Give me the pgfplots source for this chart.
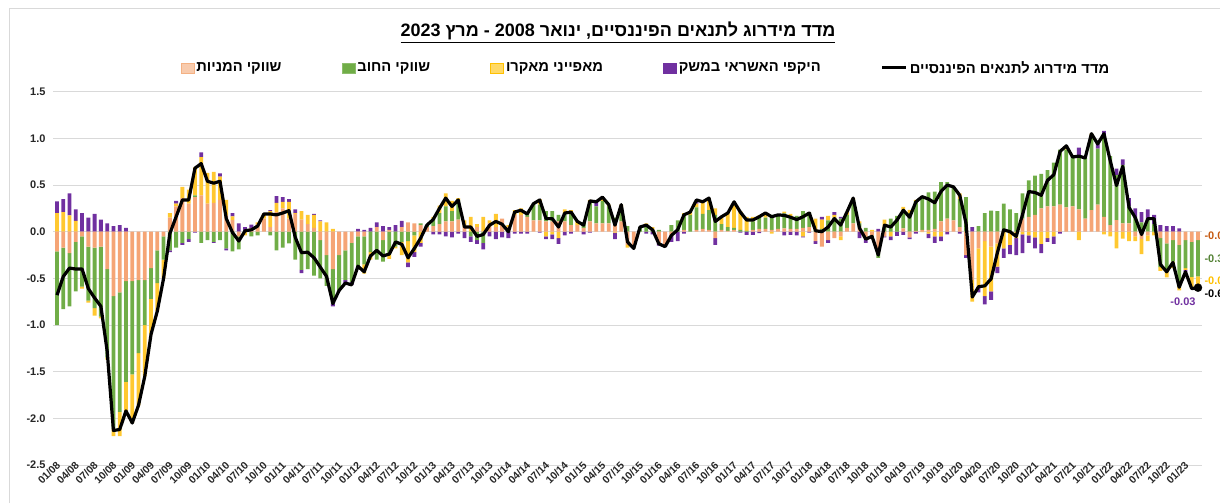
\documentclass[border=0pt]{standalone}
\usepackage{pgfplots}
\pgfplotsset{compat=1.18}
\usepackage{pgfplotstable}
\usepackage{fontspec}
\setmainfont{Liberation Sans}
\newfontfamily\hebfont[Script=Hebrew]{Liberation Sans}
\TeXXeTstate=1
\newcommand\heb[1]{{\hebfont\beginR #1\endR}}

\definecolor{eqc}{HTML}{F5A576}
\definecolor{eqlight}{HTML}{F8CBAD}
\definecolor{eqdark}{HTML}{F4B183}
\definecolor{debtc}{HTML}{70AD47}
\definecolor{macc}{HTML}{FFC830}
\definecolor{maclight}{HTML}{FFD966}
\definecolor{macdark}{HTML}{FFC000}
\definecolor{crdc}{HTML}{7030A0}
\definecolor{gridc}{HTML}{D9D9D9}
\definecolor{eqlab}{HTML}{C55A11}
\definecolor{debtlab}{HTML}{548235}

% monthly components, 01/2008 (i=0) to 03/2023 (i=182)
% eq = equity markets, debt = debt markets, mac = macro, crd = credit volume, idx = index
\pgfplotstableread{
i eq debt mac crd idx
0 -0.21 -0.79 0.20 0.125 -0.68
1 -0.17 -0.66 0.21 0.14 -0.48
2 -0.23 -0.57 0.175 0.235 -0.39
3 -0.11 -0.53 0.115 0.125 -0.40
4 -0.05 -0.54 -0.02 0.20 -0.40
5 -0.16 -0.58 -0.02 0.15 -0.61
6 -0.17 -0.65 -0.08 0.19 -0.71
7 -0.16 -0.75 -0.02 0.13 -0.80
8 -0.40 -0.95 -0.02 0.09 -1.28
9 -0.69 -1.42 -0.08 0.06 -2.13
10 -0.65 -1.28 -0.26 0.07 -2.12
11 -0.53 -1.08 -0.34 0.04 -1.92
12 -0.53 -1.00 -0.52 0.00 -2.05
13 -0.52 -0.78 -0.56 0.00 -1.86
14 -0.52 -0.48 -0.55 0.00 -1.55
15 -0.39 -0.33 -0.38 0.00 -1.10
16 -0.20 -0.35 -0.30 0.00 -0.85
17 -0.05 -0.25 -0.20 0.00 -0.50
18 0.15 -0.20 0.05 -0.02 -0.02
19 0.27 -0.17 0.03 0.03 0.16
20 0.36 -0.12 0.12 -0.02 0.34
21 0.30 -0.08 0.15 -0.03 0.34
22 0.37 0.02 0.30 -0.01 0.68
23 0.39 -0.12 0.41 0.05 0.73
24 0.30 -0.09 0.33 0.00 0.54
25 0.31 -0.11 0.33 -0.01 0.52
26 0.34 -0.09 0.25 0.035 0.54
27 0.18 -0.18 0.16 -0.02 0.14
28 0.125 -0.21 0.04 0.035 -0.01
29 -0.05 -0.14 0.00 0.09 -0.10
30 0.00 0.00 -0.04 0.05 0.01
31 0.04 -0.05 0.00 0.035 0.02
32 0.08 -0.04 0.02 0.00 0.06
33 0.14 0.00 0.05 0.00 0.19
34 0.05 -0.04 0.17 0.01 0.19
35 0.21 -0.20 0.10 0.07 0.18
36 0.25 -0.17 0.07 0.05 0.20
37 0.14 -0.125 0.18 0.03 0.225
38 0.19 -0.30 0.01 0.04 -0.06
39 0.13 -0.41 0.09 -0.035 -0.225
40 0.08 -0.40 0.10 0.00 -0.22
41 0.04 -0.47 0.14 0.01 -0.28
42 -0.09 -0.41 0.11 0.01 -0.38
43 -0.25 -0.33 0.10 0.00 -0.48
44 -0.40 -0.37 0.03 -0.03 -0.77
45 -0.25 -0.38 0.00 0.00 -0.63
46 -0.20 -0.32 0.00 -0.03 -0.55
47 -0.12 -0.42 0.00 -0.03 -0.57
48 -0.05 -0.35 0.00 0.03 -0.37
49 -0.05 -0.30 -0.10 0.02 -0.43
50 0.00 -0.22 -0.08 0.04 -0.26
51 0.05 -0.30 0.00 0.05 -0.20
52 -0.09 -0.23 0.00 0.06 -0.26
53 0.02 -0.25 -0.04 0.03 -0.24
54 0.00 -0.16 -0.02 0.07 -0.11
55 0.05 -0.11 -0.14 0.065 -0.135
56 0.10 -0.10 -0.23 -0.05 -0.28
57 0.09 -0.04 -0.18 -0.05 -0.18
58 0.07 0.02 -0.12 -0.04 -0.07
59 0.05 0.02 0.00 0.00 0.07
60 0.06 0.08 0.02 -0.03 0.13
61 0.08 0.12 0.08 -0.03 0.25
62 0.11 0.16 0.14 -0.05 0.36
63 0.11 0.11 0.11 -0.06 0.27
64 0.13 0.21 0.02 -0.02 0.34
65 0.05 0.00 0.07 -0.07 0.05
66 0.00 -0.05 0.16 -0.06 0.05
67 0.05 -0.09 0.03 -0.04 -0.05
68 0.01 -0.12 0.15 -0.07 -0.03
69 0.09 0.00 0.03 -0.05 0.07
70 0.05 0.00 0.14 -0.08 0.11
71 0.14 0.00 0.00 -0.06 0.08
72 0.05 0.00 0.02 -0.07 0.00
73 0.18 0.00 0.05 -0.02 0.21
74 0.18 0.00 0.07 -0.02 0.23
75 0.16 0.05 0.00 -0.02 0.19
76 0.12 0.18 0.00 0.00 0.30
77 0.12 0.17 0.06 -0.01 0.34
78 0.11 0.11 -0.05 -0.03 0.14
79 0.11 0.11 -0.03 -0.05 0.14
80 0.11 0.07 -0.07 -0.06 0.05
81 0.11 0.09 0.04 -0.04 0.20
82 0.07 0.12 0.04 -0.02 0.21
83 0.07 0.00 0.04 0.00 0.11
84 0.04 0.06 0.00 -0.03 0.07
85 0.11 0.21 0.02 -0.01 0.33
86 0.09 0.18 0.00 0.05 0.32
87 0.09 0.24 0.04 0.00 0.37
88 0.09 0.18 0.02 0.00 0.29
89 0.07 0.08 -0.01 -0.07 0.07
90 0.11 0.15 0.03 0.00 0.29
91 -0.14 0.06 -0.03 0.00 -0.11
92 -0.17 0.00 -0.01 0.00 -0.18
93 0.00 0.05 0.00 0.00 0.05
94 0.00 0.07 0.02 -0.02 0.07
95 0.00 0.02 0.03 -0.03 0.02
96 -0.12 0.02 0.00 -0.03 -0.13
97 -0.14 0.00 0.00 -0.02 -0.16
98 -0.04 0.07 0.00 -0.07 -0.04
99 0.00 0.12 0.00 -0.10 0.02
100 0.02 0.17 0.01 -0.02 0.18
101 0.00 0.18 0.03 0.00 0.21
102 0.02 0.24 0.04 0.04 0.34
103 0.03 0.16 0.13 0.00 0.32
104 0.02 0.21 0.13 0.00 0.36
105 -0.07 0.18 0.07 -0.07 0.11
106 0.02 0.06 0.08 0.00 0.16
107 0.01 0.04 0.15 0.00 0.20
108 0.02 0.02 0.28 0.00 0.32
109 0.00 0.02 0.20 -0.01 0.21
110 0.00 0.01 0.15 -0.035 0.125
111 0.02 0.09 0.05 -0.035 0.125
112 0.03 0.125 0.02 -0.015 0.16
113 0.03 0.12 0.05 0.00 0.20
114 0.02 0.16 -0.02 0.00 0.16
115 0.03 0.14 0.01 0.00 0.18
116 0.035 0.16 0.02 -0.04 0.175
117 0.03 0.14 0.02 -0.035 0.155
118 0.03 0.14 0.00 -0.04 0.13
119 0.04 0.18 -0.05 -0.01 0.16
120 0.05 0.16 0.00 -0.01 0.20
121 -0.10 0.02 0.12 -0.03 0.01
122 -0.16 0.03 0.10 0.03 0.00
123 -0.09 0.12 0.05 -0.03 0.05
124 -0.07 0.15 0.03 0.03 0.14
125 -0.05 0.14 -0.04 0.02 0.07
126 0.04 0.14 0.03 0.00 0.21
127 0.09 0.25 0.02 0.00 0.36
128 0.05 0.04 0.02 -0.07 0.04
129 -0.05 0.04 -0.02 -0.05 -0.08
130 -0.04 -0.03 0.02 0.00 -0.05
131 -0.23 -0.05 0.00 0.03 -0.25
132 -0.05 0.05 0.08 -0.01 0.07
133 0.00 0.14 -0.05 -0.04 0.05
134 0.00 0.17 0.00 -0.045 0.125
135 0.035 0.20 0.03 -0.035 0.23
136 -0.06 0.20 0.035 -0.02 0.155
137 0.01 0.32 0.01 -0.02 0.32
138 0.02 0.36 -0.005 0.00 0.375
139 0.02 0.40 -0.02 -0.05 0.35
140 0.03 0.40 -0.05 -0.07 0.31
141 0.11 0.42 -0.05 -0.05 0.43
142 0.14 0.39 0.00 -0.03 0.50
143 0.12 0.35 0.01 0.00 0.48
144 0.05 0.30 0.06 -0.02 0.39
145 -0.25 0.37 0.00 -0.03 0.09
146 -0.52 0.00 -0.23 0.05 -0.70
147 -0.18 0.06 -0.42 -0.05 -0.59
148 -0.10 0.20 -0.59 -0.09 -0.58
149 -0.16 0.225 -0.48 -0.09 -0.505
150 -0.125 0.22 -0.25 -0.07 -0.225
151 0.00 0.30 -0.18 -0.10 0.02
152 0.00 0.24 -0.14 -0.10 0.00
153 0.00 0.20 -0.07 -0.18 -0.05
154 0.14 0.27 -0.03 -0.20 0.18
155 0.16 0.39 -0.04 -0.08 0.43
156 0.18 0.42 -0.06 -0.12 0.42
157 0.25 0.37 -0.13 -0.10 0.39
158 0.27 0.39 -0.07 -0.04 0.55
159 0.27 0.47 -0.05 -0.08 0.61
160 0.29 0.59 0.00 -0.02 0.86
161 0.26 0.62 0.04 0.00 0.92
162 0.27 0.53 0.00 0.00 0.80
163 0.24 0.57 -0.09 0.09 0.81
164 0.14 0.65 0.00 0.00 0.79
165 0.23 0.79 0.03 0.00 1.05
166 0.29 0.60 0.00 0.05 0.94
167 0.16 0.85 -0.03 0.07 1.05
168 0.07 0.74 -0.05 0.00 0.76
169 0.125 0.48 -0.18 0.07 0.495
170 0.09 0.625 -0.075 0.06 0.70
171 0.09 0.18 -0.10 0.09 0.26
172 -0.05 0.15 -0.05 0.10 0.15
173 -0.08 0.10 -0.16 0.11 -0.03
174 -0.04 0.14 -0.06 0.10 0.14
175 0.00 0.08 -0.04 0.10 0.14
176 -0.07 -0.31 -0.04 0.07 -0.35
177 -0.125 -0.29 -0.075 0.06 -0.43
178 -0.09 -0.23 -0.07 0.06 -0.33
179 -0.14 -0.45 -0.04 0.035 -0.595
180 -0.09 -0.30 -0.02 -0.02 -0.43
181 -0.11 -0.375 -0.125 0.00 -0.61
182 -0.09 -0.39 -0.09 -0.03 -0.60
}\data

\begin{document}
\begin{tikzpicture}
\useasboundingbox (0pt,0pt) rectangle (1220pt,503pt);
\draw[gridc, line width=1pt] (9pt,0pt) -- (9pt,494pt) -- (1220pt,494pt);
\pgfplotsset{base/.style={
  at={(53pt,38pt)}, anchor=south west,
  width=1149pt, height=373.3pt, scale only axis,
  xmin=-0.64, xmax=182.64, ymin=-2.5, ymax=1.5}}

% bars: positive and negative parts are stacked apart, as Excel does
\begin{axis}[base,
  ybar stacked, stack negative=separate, bar width=3.8pt,
  axis line style={draw=none}, major tick length=0pt,
  ymajorgrids, grid style={gridc, line width=1pt},
  ytick={-2.5,-2,...,1.5},
  /pgf/number format/fixed, /pgf/number format/fixed zerofill,
  /pgf/number format/precision=1, /pgf/number format/assume math mode=true,
  yticklabel style={font=\bfseries\fontsize{11}{13}\selectfont, text=black!85, xshift=-4pt},
  xtick={0,3,...,180},
  xticklabels={01/08,04/08,07/08,10/08,01/09,04/09,07/09,10/09,01/10,04/10,07/10,10/10,01/11,04/11,07/11,10/11,01/12,04/12,07/12,10/12,01/13,04/13,07/13,10/13,01/14,04/14,07/14,10/14,01/15,04/15,07/15,10/15,01/16,04/16,07/16,10/16,01/17,04/17,07/17,10/17,01/18,04/18,07/18,10/18,01/19,04/19,07/19,10/19,01/20,04/20,07/20,10/20,01/21,04/21,07/21,10/21,01/22,04/22,07/22,10/22,01/23},
  xticklabel style={rotate=45, anchor=east, font=\bfseries\fontsize{10.5}{12}\selectfont, text=black!85, inner sep=1pt, xshift=3pt},
]
\addplot[fill=eqc, draw=none] table[x=i, y=eq] {\data};
\addplot[fill=debtc, draw=none] table[x=i, y=debt] {\data};
\addplot[fill=macc, draw=none] table[x=i, y=mac] {\data};
\addplot[fill=crdc, draw=none] table[x=i, y=crd] {\data};
\end{axis}

\begin{axis}[base, hide axis, clip=false,
  legend style={at={(0.516,1.0635)}, anchor=center, draw=none, fill=none,
    legend columns=5, font=\bfseries\fontsize{14.7}{17}\selectfont,
    /tikz/every even column/.append style={column sep=58pt}},
]
\addlegendimage{legend image code/.code={\draw[fill=eqlight, draw=eqdark, line width=0.8pt] (0pt,-5pt) rectangle (13pt,5pt);}}
\addlegendentry{\heb{שווקי המניות}}
\addlegendimage{legend image code/.code={\draw[fill=debtc, draw=debtc!80!white, line width=0.8pt] (0pt,-5pt) rectangle (13pt,5pt);}}
\addlegendentry{\heb{שווקי החוב}}
\addlegendimage{legend image code/.code={\draw[fill=maclight, draw=macdark, line width=0.8pt] (0pt,-5pt) rectangle (13pt,5pt);}}
\addlegendentry{\heb{מאפייני מאקרו}}
\addlegendimage{legend image code/.code={\draw[fill=crdc, draw=crdc, line width=0.8pt] (0pt,-5pt) rectangle (13pt,5pt);}}
\addlegendentry{\heb{היקפי האשראי במשק}}
\addlegendimage{legend image code/.code={\draw[black, line width=3pt] (0pt,0pt) -- (24pt,0pt);}}
\addlegendentry{\heb{מדד מידרוג לתנאים הפיננסיים}}

\addplot[black, line width=3.2pt, line join=round, forget plot] table[x=i, y=idx] {\data};
\addplot[black, only marks, mark=*, mark size=4pt, forget plot] coordinates {(182,-0.60)};

\begin{scope}[font=\bfseries\fontsize{11}{13}\selectfont]
\node[anchor=west, text=eqlab] at (axis cs:182,-0.045) [xshift=3pt] {-0.09};
\node[anchor=west, text=debtlab] at (axis cs:182,-0.285) [xshift=3pt] {-0.39};
\node[anchor=west, text=macdark] at (axis cs:182,-0.525) [xshift=3pt] {-0.09};
\node[anchor=west, text=black] at (axis cs:182,-0.665) [xshift=3pt] {-0.60};
\node[text=crdc] at (axis cs:179.6,-0.755) {-0.03};
\end{scope}
\end{axis}

\node[font=\bfseries\fontsize{18}{21}\selectfont, anchor=base] at (618pt,466pt)
  {\underline{\heb{מדד מידרוג לתנאים הפיננסיים, ינואר 2008 - מרץ 2023}}};
\end{tikzpicture}
\end{document}
